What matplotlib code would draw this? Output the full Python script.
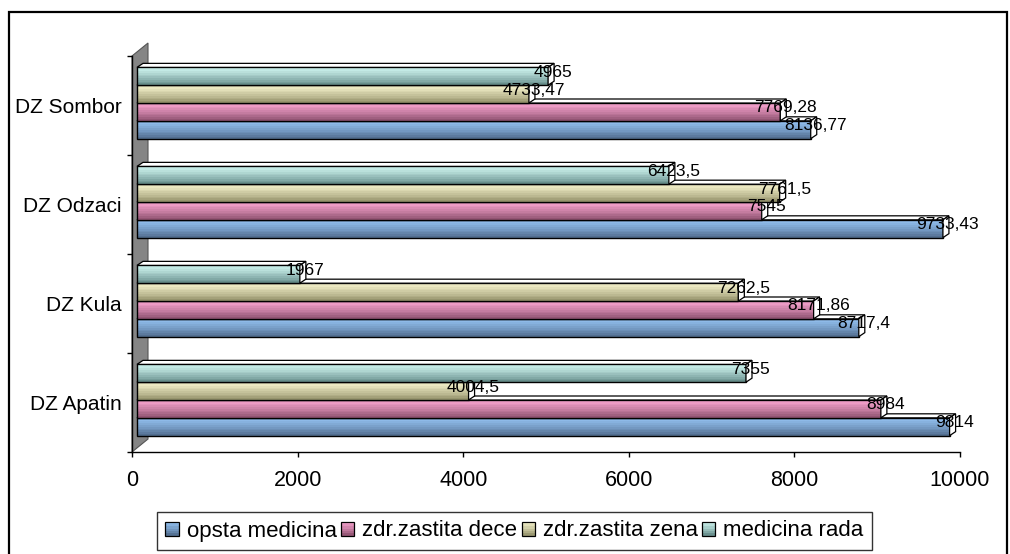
import numpy as np
import matplotlib
matplotlib.use('Agg')
import matplotlib.pyplot as plt
from matplotlib.patches import Rectangle, Polygon
from matplotlib.transforms import ScaledTranslation
from matplotlib.legend_handler import HandlerBase
import matplotlib.colors as mcolors

plt.rcParams['font.family'] = ['Liberation Sans', 'DejaVu Sans']

# ---------------- data ----------------
categories = ['DZ Apatin', 'DZ Kula', 'DZ Odzaci', 'DZ Sombor']
series_names = ['opsta medicina', 'zdr.zastita dece', 'zdr.zastita zena', 'medicina rada']
opsta_medicina = [9814, 8717.4, 9733.43, 8136.77]
zdr_zastita_dece = [8984, 8171.86, 7545, 7769.28]
zdr_zastita_zena = [4004.5, 7262.5, 7761.5, 4733.47]
medicina_rada = [7355, 1967, 6423.5, 4965]
x_ticks = [0, 2000, 4000, 6000, 8000, 10000]

series_values = [opsta_medicina, zdr_zastita_dece, zdr_zastita_zena, medicina_rada]
# (top colour, bottom colour) of the gradient
series_colors = [('#97C6F6', '#4B6585'),
                 ('#FBA6D2', '#874C69'),
                 ('#F8F5CE', '#8C8A63'),
                 ('#D2F8F3', '#5B8280')]

W, H = 1010, 554
fig = plt.figure(figsize=(W / 100, H / 100), dpi=100)

ax_l, ax_r, ax_t, ax_b = 132, 960, 56, 452
ax = fig.add_axes([ax_l / W, (H - ax_b) / H, (ax_r - ax_l) / W, (ax_b - ax_t) / H])
ax.set_xlim(0, 10000)
ax.set_ylim(-0.5, 3.5)
ppx = (ax_r - ax_l) / 10000.0
ppy = (ax_b - ax_t) / 4.0

# left wall
wall = Polygon([(0, -0.5), (0, 3.5), (16 / ppx, 3.5 + 13 / ppy), (16 / ppx, -0.5 + 13 / ppy)],
               closed=True, fc='#858585', ec='#555555', lw=0.8, clip_on=False, zorder=0.5)
ax.add_patch(wall)

shift = ax.transData + ScaledTranslation(5 / 100, 2.5 / 100, fig.dpi_scale_trans)
bar_h = 0.18
dx = 6 / ppx
dy = 4 / ppy
nstripe = 10


def grad_colors(top, bot, n):
    t = np.array(mcolors.to_rgb(top))
    b = np.array(mcolors.to_rgb(bot))
    out = []
    for k in range(n):
        f = (k + 0.5) / n  # 0 bottom -> 1 top
        f = f ** 0.8
        out.append(tuple(b + (t - b) * f))
    return out


z = 1.0
for ci, cat in enumerate(categories):
    for si, vals in enumerate(series_values):
        v = vals[ci]
        yc = ci + (si - 1.5) * bar_h
        yb, yt = yc - bar_h / 2, yc + bar_h / 2
        cols = grad_colors(series_colors[si][0], series_colors[si][1], nstripe)
        hs = bar_h / nstripe
        for k in range(nstripe):
            ax.barh(yb + hs * (k + 0.5), v, height=hs * 1.02, left=0, color=cols[k],
                    linewidth=0, transform=shift, clip_on=False, zorder=z)
        ax.barh(yc, v, height=bar_h, left=0, fill=False, edgecolor='black', linewidth=1.0,
                transform=shift, clip_on=False, zorder=z + 0.01)
        top = Polygon([(0, yt), (dx, yt + dy), (v + dx, yt + dy), (v, yt)], closed=True,
                      fc='white', ec='black', lw=0.9, transform=shift, clip_on=False, zorder=z + 0.02)
        ax.add_patch(top)
        end = Polygon([(v, yb), (v + dx, yb + dy), (v + dx, yt + dy), (v, yt)], closed=True,
                      fc='white', ec='black', lw=0.9, transform=shift, clip_on=False, zorder=z + 0.03)
        ax.add_patch(end)
        z += 0.1

for ci, cat in enumerate(categories):
    for si, vals in enumerate(series_values):
        v = vals[ci]
        yc = ci + (si - 1.5) * bar_h
        ax.text(v + 5 / ppx, yc + 4 / ppy, f"{v:g}".replace('.', ','), ha='center', va='center',
                fontsize=12.5, color='black', transform=shift, zorder=50, clip_on=False)

# axes styling
for s in ['top', 'right']:
    ax.spines[s].set_visible(False)
ax.spines['left'].set_color('black')
ax.spines['bottom'].set_color('black')
ax.spines['left'].set_linewidth(1.0)
ax.spines['bottom'].set_linewidth(1.0)
ax.spines['left'].set_zorder(0.6)

ax.set_yticks([-0.5, 0.5, 1.5, 2.5, 3.5])
ax.set_yticklabels([])
ax.tick_params(axis='y', which='major', length=3.6, width=1.0, color='black', direction='out')
ax.set_yticks(range(len(categories)), minor=True)
ax.set_yticklabels(categories, minor=True, fontsize=15)
ax.tick_params(axis='y', which='minor', length=0, pad=7.5)

ax.set_xticks(x_ticks)
ax.set_xticklabels([str(t) for t in x_ticks], fontsize=15.5)
ax.tick_params(axis='x', length=3.6, width=1.0, color='black', direction='out', pad=9)
ax.patch.set_alpha(0)


# legend with gradient squares
class GradHandler(HandlerBase):
    def __init__(self, top, bot):
        super().__init__()
        self.top, self.bot = top, bot

    def create_artists(self, legend, orig_handle, xdescent, ydescent, width, height, fontsize, trans):
        arts = []
        n = 6
        cols = grad_colors(self.top, self.bot, n)
        for k in range(n):
            arts.append(Rectangle((-xdescent, -ydescent + k * height / n), width, height / n * 1.02,
                                  fc=cols[k], lw=0, transform=trans))
        arts.append(Rectangle((-xdescent, -ydescent), width, height, fill=False, ec='black',
                              lw=0.9, transform=trans))
        return arts


handles = [Rectangle((0, 0), 1, 1) for _ in series_names]
hmap = {h: GradHandler(*series_colors[i]) for i, h in enumerate(handles)}
leg = fig.legend(handles, series_names, handler_map=hmap, ncol=4, loc='center',
                 bbox_to_anchor=((156 + 873) / 2 / W, 1 - 531 / H), fontsize=16,
                 frameon=True, fancybox=False, edgecolor='black', borderaxespad=0,
                 handlelength=0.6, handleheight=0.6, handletextpad=0.35, columnspacing=0.2,
                 borderpad=0.4)
leg.get_frame().set_linewidth(1.0)

# outer chart border
fig.patches.append(Rectangle((9 / W, -0.05), (1007 - 9) / W, (H - 12) / H + 0.05,
                             transform=fig.transFigure, fill=False, ec='black', lw=1.6))

fig.savefig('out.png', dpi=100)
